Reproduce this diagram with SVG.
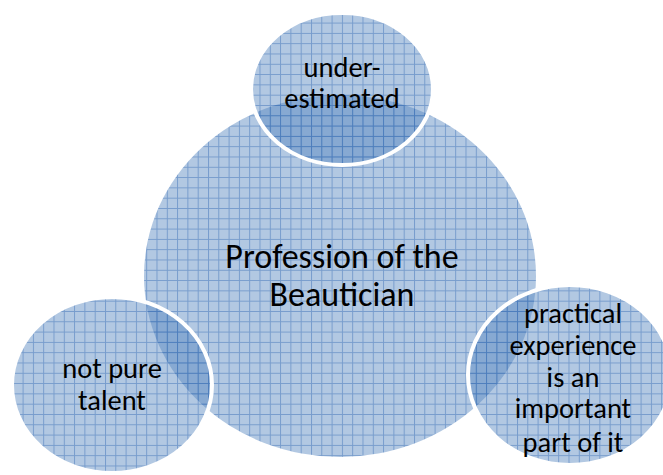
<svg xmlns="http://www.w3.org/2000/svg" width="663" height="475" viewBox="0 0 663 475">
  <defs>
    <pattern id="grid" patternUnits="userSpaceOnUse" x="2" y="2" width="10.3" height="10.3">
      <rect width="10.3" height="10.3" fill="#4f81bd" fill-opacity="0.44"/>
      <path d="M0 0.5H10.3M0.5 0V10.3" stroke="#2f66b0" stroke-opacity="0.45" stroke-width="1" fill="none"/>
    </pattern>
    <style>
      .fill { fill: url(#grid); }
      .ring { fill: url(#grid); stroke: #ffffff; stroke-width: 4; }
      text { font-family: Carlito, Lato, "Open Sans", sans-serif; fill: #000000; text-anchor: middle; }
      .big { font-size: 34px; }
      .small { font-size: 28.5px; }
    </style>
  </defs>
  <rect width="663" height="475" fill="#ffffff"/>
  <g id="node-profession">
    <ellipse class="fill" cx="340" cy="276" rx="196" ry="181"/>
  </g>
  <g id="node-underestimated">
    <ellipse class="ring" cx="342" cy="89" rx="91" ry="76"/>
  </g>
  <g id="node-not-pure-talent">
    <ellipse class="ring" cx="112" cy="385" rx="100" ry="88"/>
  </g>
  <g id="node-practical-experience">
    <ellipse class="ring" cx="570" cy="375" rx="102" ry="90"/>
  </g>
  <g id="labels">
    <text class="small" x="342" y="77">under-</text>
    <text class="small" x="342" y="108">estimated</text>
    <text class="big" x="342" y="268">Profession of the</text>
    <text class="big" x="342" y="306">Beautician</text>
    <text class="small" x="112" y="378">not pure</text>
    <text class="small" x="112" y="410">talent</text>
    <text class="small" x="573" y="323">practical</text>
    <text class="small" x="573" y="355">experience</text>
    <text class="small" x="573" y="387">is an</text>
    <text class="small" x="573" y="418">important</text>
    <text class="small" x="573" y="452">part of it</text>
  </g>
</svg>
